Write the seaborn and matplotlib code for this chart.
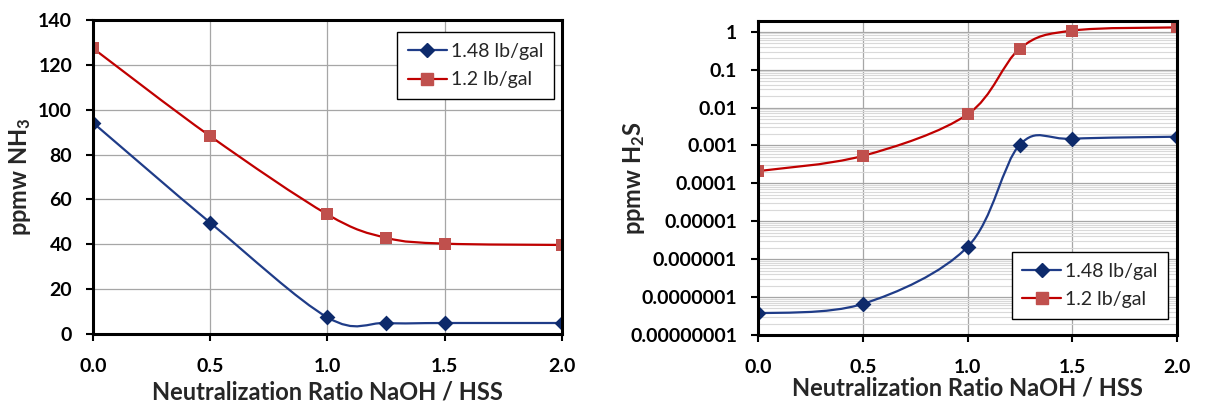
import numpy as np
import pandas as pd
import seaborn as sns
import matplotlib
matplotlib.use("Agg")
import matplotlib.pyplot as plt
from matplotlib.path import Path
from matplotlib.patches import PathPatch
from matplotlib.lines import Line2D
from matplotlib.ticker import FixedLocator, FixedFormatter, LogLocator, NullFormatter

# ---------------- data ----------------
ratio = [0.0, 0.5, 1.0, 1.25, 1.5, 2.0]
series_names = ["1.48 lb/gal", "1.2 lb/gal"]
nh3_148 = [94.2, 49.6, 7.4, 4.9, 4.9, 4.9]
nh3_12 = [127.4, 88.2, 53.3, 42.9, 40.3, 39.7]
h2s_148 = [3.7e-8, 6.6e-8, 2.1e-6, 1.05e-3, 1.5e-3, 1.7e-3]
h2s_12 = [2.1e-4, 5.3e-4, 6.6e-3, 0.36, 1.07, 1.3]
x_ticks = [0.0, 0.5, 1.0, 1.5, 2.0]
x_tick_labels = ["0.0", "0.5", "1.0", "1.5", "2.0"]
nh3_ticks = [0, 20, 40, 60, 80, 100, 120, 140]
h2s_ticks = [1e-8, 1e-7, 1e-6, 1e-5, 1e-4, 1e-3, 1e-2, 1e-1, 1]
h2s_tick_labels = ["0.00000001", "0.0000001", "0.000001", "0.00001", "0.0001",
                   "0.001", "0.01", "0.1", "1"]

# ---------------- style ----------------
sns.set_theme(style="white")
FONT = ["Lato", "DejaVu Sans"]
plt.rcParams["font.family"] = FONT
plt.rcParams["mathtext.fontset"] = "custom"
plt.rcParams["mathtext.rm"] = "Lato:bold"
plt.rcParams["mathtext.it"] = "Lato:bold"
plt.rcParams["mathtext.bf"] = "Lato:bold"
plt.rcParams["mathtext.default"] = "rm"

BLUE_LINE = "#1F3C88"
BLUE_MK = "#0D2A6B"
RED_LINE = "#C00000"
RED_MK = "#C0504D"

fig = plt.figure(figsize=(12.06, 4.09), dpi=100)
axL = fig.add_axes([0.0771, 0.1834, 0.466 - 0.0771, 0.951 - 0.1834])
axR = fig.add_axes([0.6285, 0.181, 0.976 - 0.6285, 0.9487 - 0.181])


def smooth_path(xs, ys, log=False):
    """Excel-like smoothed line: cubic Bezier through the data points."""
    xs = np.asarray(xs, float)
    ys = np.asarray(ys, float)
    yt = np.log10(ys) if log else ys
    P = np.column_stack([xs, yt])
    n = len(P)
    verts = [P[0]]
    codes = [Path.MOVETO]
    for i in range(n - 1):
        p0 = P[i - 1] if i > 0 else P[i]
        p1 = P[i]
        p2 = P[i + 1]
        p3 = P[i + 2] if i + 2 < n else P[i + 1]
        c1 = p1 + (p2 - p0) / 6.0
        c2 = p2 - (p3 - p1) / 6.0
        verts += [c1, c2, p2]
        codes += [Path.CURVE4] * 3
    V = np.array(verts)
    if log:
        V[:, 1] = 10 ** V[:, 1]
    return Path(V, codes)


def draw_series(ax, xs, ys, line_c, mk_c, marker, ms, log=False):
    ax.add_patch(PathPatch(smooth_path(xs, ys, log), facecolor="none",
                           edgecolor=line_c, lw=1.6, zorder=3))
    df = pd.DataFrame({"x": xs, "y": ys})
    sns.scatterplot(data=df, x="x", y="y", ax=ax, marker=marker, s=ms,
                    color=mk_c, edgecolor=mk_c, linewidth=0, zorder=4, legend=False)


for ax in (axL, axR):
    for s in ax.spines.values():
        s.set_linewidth(2.2)
        s.set_color("black")
        s.set_zorder(5)

# ---------- left: NH3 ----------
draw_series(axL, ratio, nh3_148, BLUE_LINE, BLUE_MK, "D", 65)
draw_series(axL, ratio, nh3_12, RED_LINE, RED_MK, "s", 80)
axL.set_xlim(0, 2.0)
axL.set_ylim(0, 140)
axL.yaxis.set_major_locator(FixedLocator(nh3_ticks))
axL.xaxis.set_major_locator(FixedLocator(x_ticks))
axL.set_xticklabels(x_tick_labels)
axL.grid(True, which="major", color="#A6A6A6", lw=0.9)
axL.set_axisbelow(True)
axL.set_xlabel("Neutralization Ratio NaOH / HSS", fontsize=17, fontweight="bold", labelpad=4)
axL.set_ylabel(r"ppmw NH$_3$", fontsize=17, fontweight="bold")
axL.yaxis.set_label_coords(-0.128, 0.5)

# ---------- right: H2S ----------
axR.set_yscale("log")
draw_series(axR, ratio, h2s_148, BLUE_LINE, BLUE_MK, "D", 65, log=True)
draw_series(axR, ratio, h2s_12, RED_LINE, RED_MK, "s", 80, log=True)
axR.set_xlim(0, 2.0)
axR.set_ylim(1e-8, 1.92)
axR.yaxis.set_major_locator(FixedLocator(h2s_ticks))
axR.yaxis.set_major_formatter(FixedFormatter(h2s_tick_labels))
axR.yaxis.set_minor_locator(LogLocator(base=10, subs=np.arange(2, 10), numticks=20))
axR.yaxis.set_minor_formatter(NullFormatter())
axR.xaxis.set_major_locator(FixedLocator(x_ticks))
axR.set_xticklabels(x_tick_labels)
axR.grid(True, which="major", axis="both", color="#A6A6A6", lw=0.9)
axR.grid(True, which="minor", axis="y", color="#D9D9D9", lw=0.8)
axR.set_axisbelow(True)
axR.set_xlabel("Neutralization Ratio NaOH / HSS", fontsize=17, fontweight="bold", labelpad=1)
axR.set_ylabel(r"ppmw H$_2$S", fontsize=17, fontweight="bold")
axR.yaxis.set_label_coords(-0.265, 0.5)

for ax in (axL, axR):
    ax.tick_params(axis="both", which="major", direction="out", length=5, width=1.5,
                   labelsize=14, colors="black", bottom=True, left=True)
    ax.tick_params(axis="y", which="major", pad=10)
    ax.tick_params(axis="x", which="major", pad=12)
    ax.tick_params(axis="y", which="minor", length=0)
    for t in ax.get_xticklabels() + ax.get_yticklabels():
        t.set_fontweight("bold")

handles = [
    Line2D([], [], color=BLUE_LINE, lw=1.6, marker="D", markersize=7.5,
           markerfacecolor=BLUE_MK, markeredgecolor=BLUE_MK),
    Line2D([], [], color=RED_LINE, lw=1.6, marker="s", markersize=8.5,
           markerfacecolor=RED_MK, markeredgecolor=RED_MK),
]
for ax, loc, anchor in ((axL, "upper right", (0.983, 0.962)),
                        (axR, "lower right", (0.979, 0.051))):
    leg = ax.legend(handles, series_names, loc=loc, bbox_to_anchor=anchor,
                    borderaxespad=0, fontsize=14, frameon=True, fancybox=False,
                    handlelength=2.0, handletextpad=0.2, borderpad=0.55,
                    labelspacing=0.6)
    leg.get_frame().set_edgecolor("black")
    leg.get_frame().set_linewidth(1.0)
    leg.get_frame().set_alpha(1)
    leg.set_zorder(6)

fig.savefig("out.png", dpi=100, facecolor="white")
